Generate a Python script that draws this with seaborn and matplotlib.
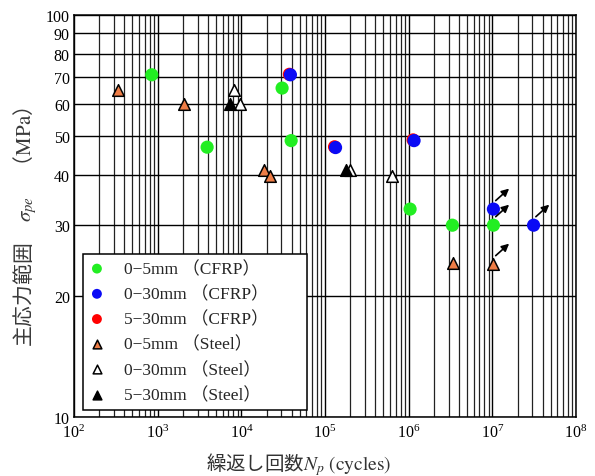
import numpy as np
import pandas as pd
import matplotlib
matplotlib.use("Agg")
import matplotlib.pyplot as plt
import seaborn as sns
from matplotlib.transforms import offset_copy
from matplotlib.ticker import FixedLocator, FixedFormatter, LogLocator, NullFormatter, NullLocator, LogFormatterSciNotation

# ---------------- data ----------------
cfrp_0_5_N = [850, 3900, 30700, 39400, 1.04e6, 3.33e6, 1.03e7]
cfrp_0_5_S = [71.0, 46.9, 65.8, 48.7, 32.9, 30.0, 30.0]
cfrp_0_30_N = [38600, 133700, 1.16e6, 1.03e7, 3.11e7]
cfrp_0_30_S = [71.0, 46.8, 48.7, 32.9, 30.0]
cfrp_5_30_N = [37500, 130000, 1.13e6]
cfrp_5_30_S = [71.2, 47.0, 48.9]
steel_0_5_N = [340, 2090, 18500, 21800, 3.43e6, 1.03e7]
steel_0_5_S = [64.9, 60.1, 41.1, 39.8, 24.1, 24.0]
steel_0_30_N = [8090, 9730, 198000, 638000]
steel_0_30_S = [65.2, 60.0, 41.2, 39.8]
steel_5_30_N = [7380, 177000]
steel_5_30_S = [60.0, 41.2]

labels = ["0−5mm （CFRP）", "0−30mm （CFRP）", "5−30mm （CFRP）",
          "0−5mm （Steel）", "0−30mm （Steel）", "5−30mm （Steel）"]
# run-out points (series index, point index) marked with arrows
runouts = [(0, 6), (1, 3), (1, 4), (3, 5)]

x_ticks = [1e2, 1e3, 1e4, 1e5, 1e6, 1e7, 1e8]
y_ticks = [10, 20, 30, 40, 50, 60, 70, 80, 90, 100]
y_ticklabels = ["10", "20", "30", "40", "50", "60", "70", "80", "90", "100"]

series_N = [cfrp_0_5_N, cfrp_0_30_N, cfrp_5_30_N, steel_0_5_N, steel_0_30_N, steel_5_30_N]
series_S = [cfrp_0_5_S, cfrp_0_30_S, cfrp_5_30_S, steel_0_5_S, steel_0_30_S, steel_5_30_S]

df = pd.concat([pd.DataFrame({"N": n, "S": s, "group": g})
                for n, s, g in zip(series_N, series_S, labels)], ignore_index=True)

# ---------------- styles ----------------
styles = {
    labels[0]: dict(color="#22ee22", marker="o", s=90, edgecolor="none", linewidth=0, zorder=3),
    labels[1]: dict(color="#0a0af5", marker="o", s=90, edgecolor="none", linewidth=0, zorder=3.2),
    labels[2]: dict(color="#ff0000", marker="o", s=90, edgecolor="none", linewidth=0, zorder=3.1),
    labels[3]: dict(color="#ee7d46", marker="^", s=70, edgecolor="black", linewidth=1.1, zorder=3),
    labels[4]: dict(color="white", marker="^", s=70, edgecolor="black", linewidth=1.1, zorder=3),
    labels[5]: dict(color="black", marker="^", s=70, edgecolor="black", linewidth=1.1, zorder=3),
}

sns.set_theme(style="white")
plt.rcParams["font.family"] = ["Liberation Serif", "Noto Sans CJK JP"]
plt.rcParams["mathtext.fontset"] = "stix"

fig = plt.figure(figsize=(5.95, 4.77), dpi=100)
ax = fig.add_axes([74 / 595, 1 - 418 / 477, 502 / 595, 402 / 477])

for g in labels:
    sub = df[df["group"] == g]
    sns.scatterplot(data=sub, x="N", y="S", ax=ax, label=g, **styles[g])

ax.set_xscale("log")
ax.set_yscale("log")
ax.set_xlim(1e2, 1e8)
ax.set_ylim(10, 100)

ax.xaxis.set_major_locator(FixedLocator(x_ticks))
ax.xaxis.set_major_formatter(LogFormatterSciNotation(base=10))
ax.xaxis.set_minor_locator(LogLocator(base=10, subs=np.arange(2, 10), numticks=100))
ax.xaxis.set_minor_formatter(NullFormatter())
ax.yaxis.set_major_locator(FixedLocator(y_ticks))
ax.yaxis.set_major_formatter(FixedFormatter(y_ticklabels))
ax.yaxis.set_minor_locator(NullLocator())

ax.grid(True, which="major", axis="both", color="black", lw=1.0)
ax.grid(True, which="minor", axis="x", color="#222222", lw=0.9)
ax.set_axisbelow(True)

ax.tick_params(axis="both", which="both", length=0, labelsize=11.5, colors="black")
ax.tick_params(axis="x", pad=5)
ax.tick_params(axis="y", pad=3)
for sp in ax.spines.values():
    sp.set_color("black")
    sp.set_linewidth(1.1)

# run-out arrows
for si, pi in runouts:
    x, y = series_N[si][pi], series_S[si][pi]
    start = offset_copy(ax.transData, fig=fig, x=2.3, y=8.5, units="dots")
    tip = offset_copy(ax.transData, fig=fig, x=15.7, y=20.5, units="dots")
    ax.annotate("", xy=(x, y), xycoords=tip, xytext=(x, y), textcoords=start,
                arrowprops=dict(arrowstyle="-|>", color="black", lw=1.2,
                                mutation_scale=11, shrinkA=0, shrinkB=0),
                zorder=4)

ax.set_xlabel("繰返し回数$N_p\\ \\mathrm{(cycles)}$", fontsize=14,
              family="Noto Sans CJK JP", color="#333333")
ax.xaxis.set_label_coords(0.448, -0.083)
ax.set_ylabel("主応力範囲　$\\sigma_{pe}$　（$\\mathrm{MPa}$）", fontsize=15,
              family="Noto Sans CJK JP", color="#3a3a3a")
ax.yaxis.set_label_coords(-0.07, 0.475)

leg = ax.legend(loc="lower left", bbox_to_anchor=(0.018, 0.017, 0.446, 0.4),
                mode="expand", borderaxespad=0,
                fontsize=12.5, frameon=True, fancybox=False, edgecolor="black",
                framealpha=1, markerscale=0.75, labelspacing=0.5,
                handletextpad=1.15, borderpad=0.4, handlelength=0.8)
leg.get_frame().set_linewidth(1.1)
leg.set_zorder(5)

fig.savefig("out.png", dpi=100)
